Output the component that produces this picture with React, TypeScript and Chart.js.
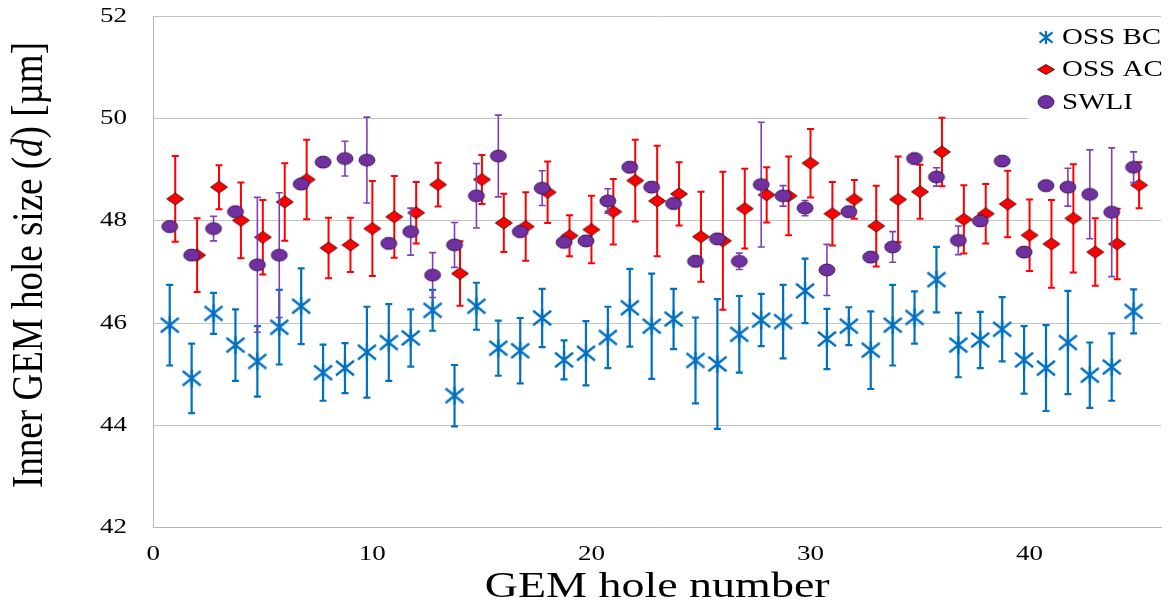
import React, { useEffect, useRef } from "react";
import { Chart, registerables } from "chart.js";

Chart.register(...registerables);

// ---------- data ----------
const holeNumbers = [
  1, 2, 3, 4, 5, 6, 7, 8, 9, 10, 11, 12, 13, 14, 15, 16, 17, 18, 19, 20, 21, 22, 23,
  24, 25, 26, 27, 28, 29, 30, 31, 32, 33, 34, 35, 36, 37, 38, 39, 40, 41, 42, 43, 44, 45,
];

const ossBC = [
  45.96, 44.92, 46.19, 45.57, 45.25, 45.92, 46.33, 45.03, 45.12, 45.43, 45.62, 45.71, 46.25,
  44.58, 46.33, 45.51, 45.46, 46.1, 45.28, 45.41, 45.72, 46.3, 45.94, 46.08, 45.27, 45.2,
  45.78, 46.06, 46.03, 46.63, 45.69, 45.94, 45.47, 45.96, 46.11, 46.85, 45.57, 45.67, 45.88,
  45.28, 45.12, 45.62, 44.98, 45.14, 46.23,
];
const ossBCErr = [
  0.79, 0.68, 0.4, 0.7, 0.69, 0.73, 0.74, 0.55, 0.49, 0.89, 0.75, 0.56, 0.4, 0.6, 0.46, 0.54,
  0.64, 0.57, 0.38, 0.63, 0.6, 0.76, 1.03, 0.59, 0.84, 1.27, 0.75, 0.51, 0.72, 0.63, 0.59,
  0.37, 0.76, 0.79, 0.51, 0.64, 0.63, 0.55, 0.63, 0.66, 0.84, 1.01, 0.64, 0.66, 0.43,
];

const ossAC = [
  48.43, 47.33, 48.66, 48.01, 47.68, 48.37, 48.81, 47.47, 47.53, 47.85, 48.08, 48.16, 48.71,
  46.97, 48.81, 47.96, 47.89, 48.56, 47.71, 47.83, 48.18, 48.79, 48.39, 48.53, 47.69, 47.61,
  48.24, 48.51, 48.49, 49.13, 48.14, 48.42, 47.9, 48.42, 48.57, 49.35, 48.03, 48.14, 48.33,
  47.72, 47.55, 48.05, 47.39, 47.55, 48.7,
];
const ossACErr = [
  0.84, 0.72, 0.43, 0.74, 0.73, 0.76, 0.78, 0.59, 0.53, 0.93, 0.8, 0.6, 0.43, 0.63, 0.48, 0.57,
  0.67, 0.6, 0.4, 0.66, 0.64, 0.8, 1.08, 0.62, 0.88, 1.35, 0.78, 0.54, 0.77, 0.67, 0.62, 0.38,
  0.79, 0.84, 0.53, 0.67, 0.67, 0.58, 0.65, 0.7, 0.86, 1.06, 0.66, 0.69, 0.45,
];

const swli = [
  47.89, 47.33, 47.85, 48.18, 47.14, 47.33, 48.72, 49.15, 49.22, 49.19, 47.56, 47.79, 46.94,
  47.53, 48.49, 49.27, 47.79, 48.64, 47.58, 47.61, 48.39, 49.05, 48.66, 48.34, 47.21, 47.65,
  47.21, 48.71, 48.49, 48.25, 47.04, 48.18, 47.29, 47.49, 49.22, 48.86, 47.62, 48.0, 49.17,
  47.39, 48.69, 48.66, 48.52, 48.17, 49.05,
];
const swliErr = [
  0.1, 0.1, 0.24, 0.1, 1.32, 1.22, 0.1, 0.1, 0.34, 0.84, 0.1, 0.46, 0.44, 0.44, 0.63, 0.8, 0.1,
  0.34, 0.1, 0.1, 0.24, 0.1, 0.1, 0.1, 0.1, 0.1, 0.16, 1.22, 0.2, 0.15, 0.5, 0.1, 0.1, 0.3, 0.1,
  0.18, 0.28, 0.1, 0.1, 0.1, 0.1, 0.37, 0.87, 1.26, 0.3,
];

const seriesLabels = ["OSS BC", "OSS AC", "SWLI"];
const xTickValues = [0, 10, 20, 30, 40];
const yTickValues = [42, 44, 46, 48, 50, 52];
const xTitle = "GEM hole number";
const yTitleParts = ["Inner GEM hole size (", "d", ") [\u00b5m]"];

// ---------- styling ----------
const FONT = "'Liberation Serif', 'Times New Roman', serif";
const BLUE = "#0070C0";
const RED = "#FF0000";
const PURPLE = "#7030A0";
const PURPLE_BAR = "#7E3FB8";
const SQUISH = 0.78;
const SHIFT_BC_SWLI = -0.25;

function drawStar(ctx: CanvasRenderingContext2D, cx: number, cy: number, r: number, lw: number) {
  ctx.save();
  ctx.strokeStyle = BLUE;
  ctx.lineWidth = lw;
  ctx.beginPath();
  ctx.moveTo(cx - r, cy - r * 0.8);
  ctx.lineTo(cx + r, cy + r * 0.8);
  ctx.moveTo(cx - r, cy + r * 0.8);
  ctx.lineTo(cx + r, cy - r * 0.8);
  ctx.moveTo(cx, cy - r);
  ctx.lineTo(cx, cy + r);
  ctx.stroke();
  ctx.restore();
}

function drawDiamond(ctx: CanvasRenderingContext2D, cx: number, cy: number, w: number, h: number) {
  ctx.save();
  ctx.fillStyle = RED;
  ctx.strokeStyle = "#2a0000";
  ctx.lineWidth = 0.8;
  ctx.beginPath();
  ctx.moveTo(cx, cy - h / 2);
  ctx.lineTo(cx + w / 2, cy);
  ctx.lineTo(cx, cy + h / 2);
  ctx.lineTo(cx - w / 2, cy);
  ctx.closePath();
  ctx.fill();
  ctx.stroke();
  ctx.restore();
}

function drawEllipse(ctx: CanvasRenderingContext2D, cx: number, cy: number, w: number, h: number) {
  ctx.save();
  ctx.fillStyle = PURPLE;
  ctx.strokeStyle = "#2b1040";
  ctx.lineWidth = 0.8;
  ctx.beginPath();
  ctx.ellipse(cx, cy, w / 2, h / 2, 0, 0, Math.PI * 2);
  ctx.fill();
  ctx.stroke();
  ctx.restore();
}

function makeMarker(w: number, h: number, draw: (ctx: CanvasRenderingContext2D, cx: number, cy: number) => void) {
  const c = document.createElement("canvas");
  c.width = w;
  c.height = h;
  const ctx = c.getContext("2d") as CanvasRenderingContext2D;
  draw(ctx, w / 2, h / 2);
  return c;
}

function squishText(
  ctx: CanvasRenderingContext2D,
  text: string,
  x: number,
  y: number,
  size: number,
  align: CanvasTextAlign,
  baseline: CanvasTextBaseline
) {
  ctx.save();
  ctx.translate(x, y);
  ctx.scale(1, SQUISH);
  ctx.font = `${size}px ${FONT}`;
  ctx.textAlign = align;
  ctx.textBaseline = baseline;
  ctx.fillStyle = "#000";
  ctx.fillText(text, 0, 0);
  ctx.restore();
}

export default function App() {
  const ref = useRef<HTMLCanvasElement | null>(null);

  useEffect(() => {
    const canvas = ref.current;
    if (!canvas) return;

    const starImg = makeMarker(22, 22, (c, x, y) => drawStar(c, x, y, 9, 2.4));
    const diamondImg = makeMarker(20, 16, (c, x, y) => drawDiamond(c, x, y, 17, 12));
    const ellipseImg = makeMarker(20, 16, (c, x, y) => drawEllipse(c, x, y, 16, 12));

    const errorSets = [
      { err: ossBCErr, color: BLUE, width: 2.2 },
      { err: ossACErr, color: RED, width: 2 },
      { err: swliErr, color: PURPLE_BAR, width: 1.6 },
    ];

    const errorBarPlugin = {
      id: "errorBars",
      beforeDatasetDraw(chart: any, args: any) {
        const set = errorSets[args.index];
        if (!set) return;
        const ctx = chart.ctx as CanvasRenderingContext2D;
        const yScale = chart.scales.y;
        const ds = chart.data.datasets[args.index];
        ctx.save();
        ctx.strokeStyle = set.color;
        ctx.lineWidth = set.width;
        args.meta.data.forEach((pt: any, i: number) => {
          const v = ds.data[i].y;
          const e = set.err[i];
          const yt = yScale.getPixelForValue(v + e);
          const yb = yScale.getPixelForValue(v - e);
          const x = pt.x;
          ctx.beginPath();
          ctx.moveTo(x, yt);
          ctx.lineTo(x, yb);
          ctx.moveTo(x - 3.5, yt);
          ctx.lineTo(x + 3.5, yt);
          ctx.moveTo(x - 3.5, yb);
          ctx.lineTo(x + 3.5, yb);
          ctx.stroke();
        });
        ctx.restore();
      },
    };

    const textPlugin = {
      id: "texts",
      afterDraw(chart: any) {
        const ctx = chart.ctx as CanvasRenderingContext2D;
        const xs = chart.scales.x;
        const ys = chart.scales.y;

        // y tick labels
        ys.ticks.forEach((t: any) => {
          squishText(ctx, String(t.value), 127, ys.getPixelForValue(t.value), 27, "right", "middle");
        });
        // x tick labels
        xs.ticks.forEach((t: any) => {
          squishText(ctx, String(t.value), xs.getPixelForValue(t.value), 554, 27, "center", "middle");
        });
        // x title
        squishText(ctx, xTitle, (xs.left + xs.right) / 2 + 0, 597, 46, "center", "alphabetic");

        // y title (rotated, condensed along its length)
        ctx.save();
        ctx.translate(42, 265);
        ctx.rotate(-Math.PI / 2);
        const fonts = [`44px ${FONT}`, `italic 44px ${FONT}`, `44px ${FONT}`];
        const widths = yTitleParts.map((p, i) => {
          ctx.font = fonts[i];
          return ctx.measureText(p).width;
        });
        const total = widths.reduce((a, b) => a + b, 0);
        ctx.scale(446 / total, 1);
        let cx = -total / 2;
        ctx.fillStyle = "#000";
        ctx.textAlign = "left";
        ctx.textBaseline = "alphabetic";
        yTitleParts.forEach((p, i) => {
          ctx.font = fonts[i];
          ctx.fillText(p, cx, 0);
          cx += widths[i];
        });
        ctx.restore();

        // legend
        ctx.save();
        ctx.fillStyle = "#ffffff";
        ctx.fillRect(1028, 19, 144, 106);
        ctx.restore();
        const rows = [37.5, 69.5, 102];
        drawStar(ctx, 1046, rows[0], 6.5, 2.2);
        drawDiamond(ctx, 1046, rows[1], 17, 10);
        drawEllipse(ctx, 1046, rows[2], 16, 13);
        seriesLabels.forEach((lbl, i) => {
          squishText(ctx, lbl, 1062, rows[i] + 1, 29, "left", "middle");
        });
      },
    };

    const chart = new Chart(canvas, {
      type: "scatter",
      data: {
        datasets: [
          {
            label: seriesLabels[0],
            data: holeNumbers.map((h, i) => ({ x: h + SHIFT_BC_SWLI, y: ossBC[i] })),
            pointStyle: starImg as any,
            pointRadius: 10,
            order: 3,
          },
          {
            label: seriesLabels[1],
            data: holeNumbers.map((h, i) => ({ x: h, y: ossAC[i] })),
            pointStyle: diamondImg as any,
            pointRadius: 9,
            order: 2,
          },
          {
            label: seriesLabels[2],
            data: holeNumbers.map((h, i) => ({ x: h + SHIFT_BC_SWLI, y: swli[i] })),
            pointStyle: ellipseImg as any,
            pointRadius: 9,
            order: 1,
          },
        ],
      },
      options: {
        animation: false,
        responsive: false,
        devicePixelRatio: 1,
        layout: { padding: { top: 16.5, right: 1, left: 0, bottom: 0 } },
        plugins: { legend: { display: false }, tooltip: { enabled: false } },
        scales: {
          x: {
            type: "linear",
            min: 0,
            max: 46,
            afterBuildTicks: (s: any) => {
              s.ticks = xTickValues.map((v) => ({ value: v }));
            },
            ticks: { display: false },
            grid: { display: false, drawTicks: false },
            border: { display: true, color: "#B5B5B5", width: 1 },
            afterFit: (s: any) => {
              s.height = 75.5;
            },
          },
          y: {
            type: "linear",
            min: 42,
            max: 52,
            afterBuildTicks: (s: any) => {
              s.ticks = yTickValues.map((v) => ({ value: v }));
            },
            ticks: { display: false },
            grid: { color: "#C4C4C4", lineWidth: 1, drawTicks: false },
            border: { display: true, color: "#B5B5B5", width: 1 },
            afterFit: (s: any) => {
              s.width = 153.3;
            },
          },
        },
      } as any,
      plugins: [errorBarPlugin, textPlugin],
    });

    return () => chart.destroy();
  }, []);

  return (
    <canvas
      ref={ref}
      width={1172}
      height={603}
      style={{ position: "absolute", left: 0, top: 0, width: 1172, height: 603, background: "#fff" }}
    />
  );
}
